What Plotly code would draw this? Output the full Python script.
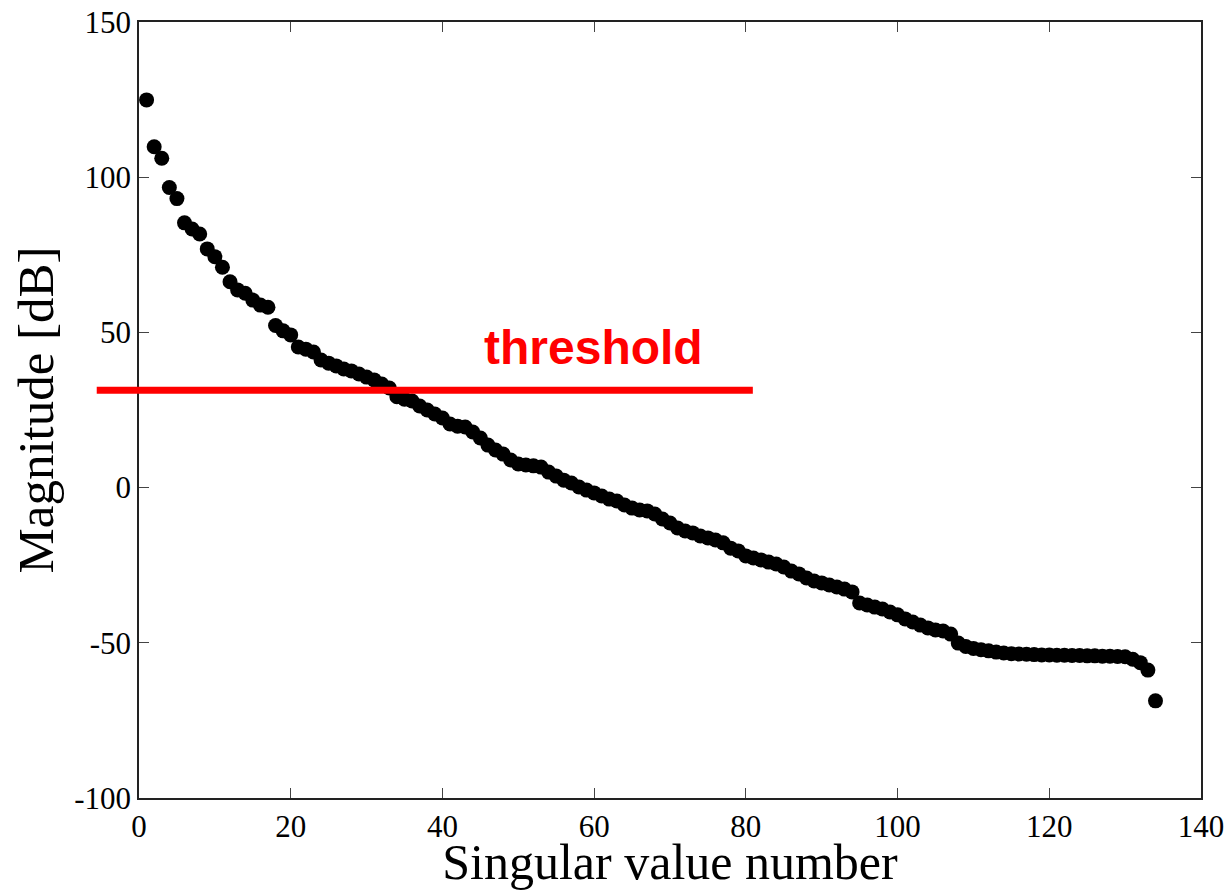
import plotly.graph_objects as go

# Singular value index and magnitude (dB)
sv_number = list(range(1, 135))
magnitude_db = [
    124.9, 109.8, 106.1, 96.7, 93.1, 85.3, 83.3, 81.7, 76.9, 74.4,
    71.0, 66.3, 63.7, 62.6, 60.4, 58.8, 58.1, 52.2, 50.5, 49.2,
    45.3, 44.6, 43.7, 41.1, 40.1, 39.2, 38.2, 37.6, 36.6, 35.6,
    34.7, 33.4, 32.1, 29.3, 28.5, 27.9, 26.3, 25.0, 23.7, 22.4,
    20.5, 19.8, 19.5, 17.9, 16.0, 13.7, 12.1, 10.8, 8.9, 7.6,
    7.3, 7.0, 6.6, 5.0, 3.7, 2.4, 1.5, 0.2, -0.8, -1.7,
    -2.7, -3.7, -4.3, -5.6, -6.6, -7.2, -7.5, -8.5, -10.1, -11.4,
    -13.0, -14.0, -14.6, -15.6, -16.2, -16.9, -17.8, -19.5, -20.4, -22.0,
    -22.7, -23.3, -24.0, -24.6, -25.6, -26.9, -27.8, -29.1, -30.1, -30.7,
    -31.4, -32.0, -32.7, -33.6, -37.2, -37.8, -38.5, -39.1, -40.1, -41.0,
    -42.3, -43.3, -44.3, -45.2, -45.9, -46.2, -47.2, -50.1, -51.2, -51.8,
    -52.2, -52.6, -53.0, -53.3, -53.5, -53.6, -53.7, -53.8, -53.9, -53.9,
    -54.0, -54.0, -54.1, -54.1, -54.2, -54.2, -54.3, -54.3, -54.4, -54.5,
    -55.3, -56.4, -58.8, -68.7,
]

threshold_db = 31.4
threshold_label = "threshold"

x_ticks = [0, 20, 40, 60, 80, 100, 120, 140]
x_tick_text = ["0", "20", "40", "60", "80", "100", "120", "140"]
y_ticks = [-100, -50, 0, 50, 100, 150]
y_tick_text = ["-100", "-50", "0", "50", "100", "150"]

fig = go.Figure()
fig.add_trace(go.Scatter(
    x=sv_number, y=magnitude_db, mode="markers",
    marker=dict(color="black", size=15, line=dict(width=0)),
    showlegend=False, cliponaxis=False,
))

fig.add_shape(type="line", xref="paper", yref="y",
              x0=-0.0398, x1=0.578, y0=threshold_db, y1=threshold_db,
              line=dict(color="#ff0000", width=7), layer="above")

fig.add_annotation(text=threshold_label, xref="x", yref="y",
                   x=59.9, y=45.0, xanchor="center", yanchor="middle",
                   showarrow=False,
                   font=dict(family="Liberation Sans", size=48, color="#ff0000", weight="bold"))

axis_common = dict(
    showgrid=False, zeroline=False, showline=True, linecolor="#222222", linewidth=1.5,
    mirror="ticks", ticks="inside", ticklen=10, tickwidth=1.2, tickcolor="#444444",
    tickfont=dict(family="Liberation Serif", size=31, color="black"),
    automargin=False,
)

fig.update_xaxes(range=[0, 140], tickvals=x_ticks, ticktext=x_tick_text, **axis_common,
                 title=dict(text="Singular value number",
                            font=dict(family="Liberation Serif", size=50, color="black"),
                            standoff=0))
fig.update_yaxes(range=[-100, 150], tickvals=y_ticks, ticktext=y_tick_text, **axis_common,
                 title=dict(text="Magnitude [dB]",
                            font=dict(family="Liberation Serif", size=51, color="black"),
                            standoff=4))

fig.update_layout(
    width=1232, height=890,
    margin=dict(l=139, r=31, t=22, b=92),
    paper_bgcolor="white", plot_bgcolor="white",
)

fig.write_html("out.html")
